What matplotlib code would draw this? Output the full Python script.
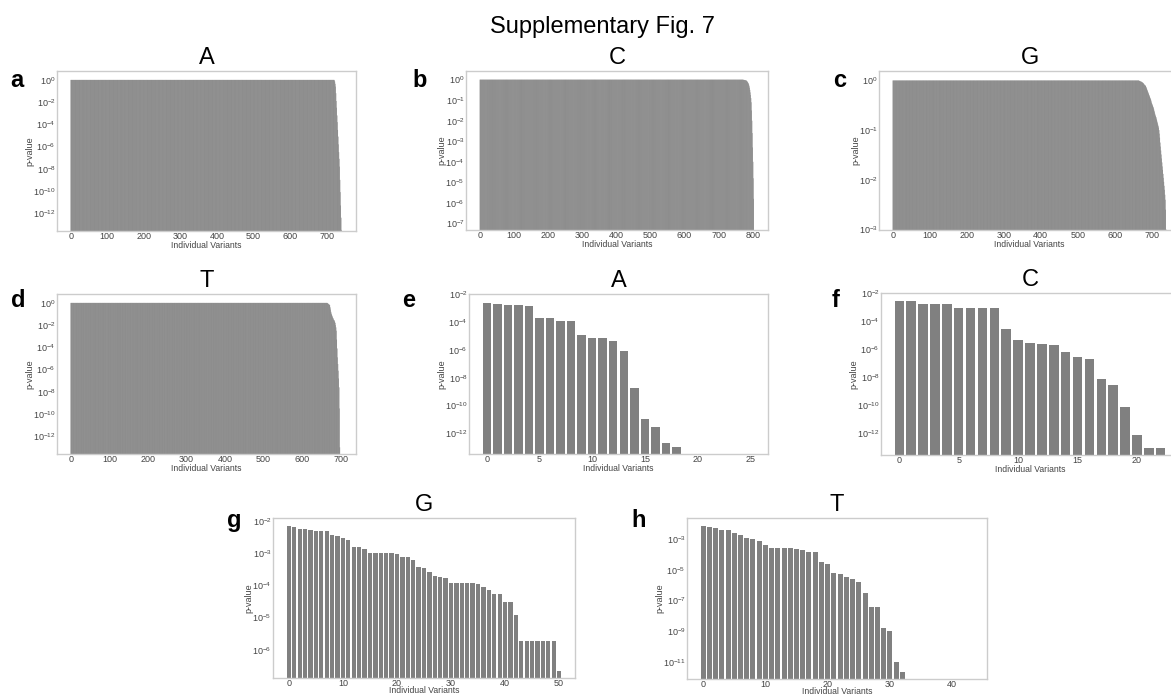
import matplotlib
matplotlib.use("Agg")
import matplotlib.pyplot as plt
import numpy as np
from matplotlib.ticker import NullLocator

plt.rcParams['font.family'] = ['Liberation Sans', 'DejaVu Sans']
plt.rcParams['mathtext.default'] = 'regular'

# ---- data (p-values, stored as log10) ----
# panels a-d: long runs of p = 1 followed by a short falling tail
a_flat_n = 722
a_tail_log10 = [-0.05, -0.15, -0.35, -0.6, -1.2, -1.9, -2.5, -3.2, -3.8, -4.5, -5.1,
                -5.8, -6.5, -7.1, -7.8, -9.0, -10.1, -11.3, -12.4, -13.5, -14.5, -15.5]

b_flat_n = 772
b_tail_log10 = [-0.005, -0.01, -0.01, -0.015, -0.02, -0.02, -0.025, -0.03, -0.03, -0.04,
                -0.05, -0.07, -0.09, -0.11, -0.14, -0.17, -0.2, -0.25, -0.32, -0.4,
                -0.5, -0.62, -0.75, -0.9, -1.1, -1.5, -2.0, -2.6, -3.3, -4.0,
                -4.8, -5.8, -7.5]

c_flat_n = 665
c_tail_log10 = [0, -0.005, -0.01, -0.01, -0.015, -0.02, -0.02, -0.025, -0.03, -0.035,
                -0.04, -0.045, -0.05, -0.06, -0.07,
                -0.08, -0.09, -0.1, -0.1, -0.11, -0.13, -0.15, -0.17, -0.19, -0.21,
                -0.23, -0.25, -0.27, -0.29, -0.31, -0.33, -0.35, -0.37, -0.39, -0.42,
                -0.45, -0.47, -0.49, -0.51, -0.53, -0.55, -0.58, -0.61, -0.64, -0.67,
                -0.7, -0.72, -0.74, -0.77, -0.8, -0.83, -0.86, -0.89, -0.92, -0.95,
                -1.0, -1.07, -1.15, -1.25, -1.33, -1.41, -1.49, -1.57, -1.65, -1.73,
                -1.8, -1.88, -1.96, -2.04, -2.12, -2.2, -2.3, -2.4, -2.6, -3.0]

d_flat_n = 666
d_tail_log10 = [-0.02, -0.05, -0.08, -0.11, -0.14, -0.17, -0.2, -0.4, -0.6, -0.8,
                -0.96, -1.05, -1.15, -1.25, -1.35, -1.4, -1.5, -1.55, -1.6, -1.7,
                -1.8, -2.0, -2.2, -2.5, -3.3, -4.1, -4.9, -5.5, -6.1, -6.8,
                -7.6, -9.5, -13.0, -16, -16, -16, -16, -16, -16]

# panels e-h: individual variants
e_log10 = [-2.64, -2.71, -2.76, -2.81, -2.88, -3.75, -3.75, -3.9, -3.9, -4.96,
           -5.18, -5.18, -5.37, -6.12, -8.73, -10.93, -11.53, -12.66, -12.95,
           -16, -16, -16, -16, -16, -16, -16]
f_log10 = [-2.57, -2.57, -2.76, -2.76, -2.81, -3.04, -3.04, -3.09, -3.09, -4.54,
           -5.32, -5.53, -5.65, -5.67, -6.22, -6.55, -6.72, -8.16, -8.56, -10.1,
           -12.12, -13.02, -13.02]
g_log10 = [-2.155, -2.19, -2.26, -2.26, -2.29, -2.32, -2.32, -2.32, -2.44, -2.47,
           -2.52, -2.58, -2.82, -2.82, -2.88, -3.01, -3.01, -3.01, -3.01, -3.01,
           -3.03, -3.13, -3.13, -3.2, -3.42, -3.47, -3.58, -3.71, -3.73, -3.78,
           -3.92, -3.92, -3.92, -3.92, -3.92, -3.96, -4.06, -4.16, -4.27, -4.28,
           -4.51, -4.51, -4.92, -5.74, -5.74, -5.74, -5.74, -5.74, -5.74, -5.74,
           -6.67]
h_log10 = [-2.11, -2.22, -2.24, -2.39, -2.41, -2.61, -2.72, -2.93, -2.98, -3.13,
           -3.37, -3.59, -3.59, -3.59, -3.59, -3.65, -3.7, -3.85, -3.85, -4.5,
           -4.63, -5.18, -5.29, -5.44, -5.59, -5.77, -6.53, -7.4, -7.4, -8.82,
           -8.97, -11.0, -11.65,
           -16, -16, -16, -16, -16, -16, -16, -16, -16, -16, -16]

titles = ["A", "C", "G", "T", "A", "C", "G", "T"]
letters = ["a", "b", "c", "d", "e", "f", "g", "h"]
ytick_exps = [[0, -2, -4, -6, -8, -10, -12],
              [0, -1, -2, -3, -4, -5, -6, -7],
              [0, -1, -2, -3],
              [0, -2, -4, -6, -8, -10, -12],
              [-2, -4, -6, -8, -10, -12],
              [-2, -4, -6, -8, -10, -12],
              [-2, -3, -4, -5, -6],
              [-3, -5, -7, -9, -11]]
ylim_exps = [(-13.6, 0.8), (-7.32, 0.42), (-3.01, 0.19), (-13.6, 0.8),
             (-13.47, -2.05), (-13.54, -2.05), (-6.88, -1.91), (-12.13, -1.6)]

values = [
    np.concatenate([np.ones(a_flat_n), 10.0 ** np.array(a_tail_log10)]),
    np.concatenate([np.ones(b_flat_n), 10.0 ** np.array(b_tail_log10)]),
    np.concatenate([np.ones(c_flat_n), 10.0 ** np.array(c_tail_log10)]),
    np.concatenate([np.ones(d_flat_n), 10.0 ** np.array(d_tail_log10)]),
    10.0 ** np.array(e_log10),
    10.0 ** np.array(f_log10),
    10.0 ** np.array(g_log10),
    10.0 ** np.array(h_log10),
]

# ---- layout (pixels: left, right, top, bottom) ----
W, H = 1171, 695
boxes = [(57, 356, 71, 231), (466, 768, 71, 230), (879, 1180, 71, 230),
         (57, 356, 294, 454), (469, 768, 294, 454), (881, 1179, 293, 455),
         (273, 575, 518, 678), (687, 987, 518, 679)]
letter_pos = [(10, 87), (412, 87), (833, 87), (11, 307), (402, 307), (832, 307),
              (227, 527), (631, 527)]

fig = plt.figure(figsize=(W / 100, H / 100), dpi=100)

for i in range(8):
    l, r, t, b = boxes[i]
    ax = fig.add_axes([l / W, 1 - b / H, (r - l) / W, (b - t) / H])
    x = np.arange(len(values[i]))
    # hundreds of sub-pixel bars blend lighter when antialiased, so use a darker
    # fill there to keep the same overall grey as the reference
    if len(x) > 100:
        ax.bar(x, values[i], width=0.93, color='#5a5a5a', linewidth=0, snap=False)
    else:
        ax.bar(x, values[i], width=0.8, color='#808080', linewidth=0)
    ax.set_yscale('log')
    ax.set_ylim(10.0 ** ylim_exps[i][0], 10.0 ** ylim_exps[i][1])
    ax.set_yticks(10.0 ** np.array(ytick_exps[i], dtype=float))
    ax.yaxis.set_minor_locator(NullLocator())
    ax.tick_params(length=0, labelsize=6.5, labelcolor='#444444', pad=1)
    for s in ax.spines.values():
        s.set_color('#cccccc')
        s.set_linewidth(1)
    ax.set_xlabel("Individual Variants", fontsize=6.2, color='#444444',
                  labelpad=-0.5 if i < 6 else -1.5)
    ax.set_ylabel("p-value", fontsize=6.5, color='#444444', labelpad=-1)
    ax.set_title(titles[i], fontsize=17, pad=5)
    fig.text(letter_pos[i][0] / W, 1 - letter_pos[i][1] / H, letters[i],
             fontsize=17, fontweight='bold', va='baseline', ha='left')

fig.text(602 / W, 1 - 33 / H, "Supplementary Fig. 7", fontsize=17,
         ha='center', va='baseline')

fig.savefig("out.png", dpi=100)
